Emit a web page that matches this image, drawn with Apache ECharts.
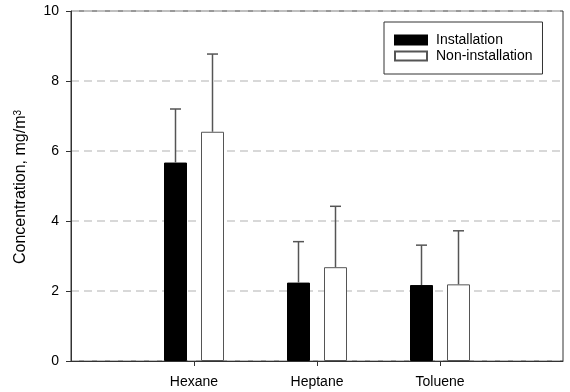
<!DOCTYPE html>
<html>
<head>
<meta charset="utf-8">
<script src="https://cdn.jsdelivr.net/npm/echarts@6/dist/echarts.min.js"></script>
<style>html,body{margin:0;padding:0;background:#fff}#c{width:570px;height:392px}</style>
</head>
<body>
<div id="c"></div>
<script>
// Data
const categories = ['', 'Hexane', 'Heptane', 'Toluene', ''];
const installation = [null, 5.67, 2.24, 2.17, null];
const installationErr = [null, 1.53, 1.17, 1.14, null];
const nonInstallation = [null, 6.55, 2.68, 2.19, null];
const nonInstallationErr = [null, 2.22, 1.74, 1.53, null];
const yTicks = [0, 2, 4, 6, 8, 10];
const yTitle = 'Concentration, mg/m{s|3}';

const BAR_W = 23;
const GAP = 14;
const OFF = (BAR_W + GAP) / 2;
const FONT = '"Liberation Sans", Arial, sans-serif';

function errSeries(name, vals, errs, dir) {
  const d = [];
  vals.forEach((v, i) => { if (v != null) d.push([i, v, v + errs[i]]); });
  return {
    type: 'custom',
    name: name + ' err',
    z: 5,
    silent: true,
    encode: { x: 0, y: [1, 2] },
    data: d,
    renderItem: function (params, api) {
      const idx = api.value(0);
      const p0 = api.coord([idx, api.value(1)]);
      const p1 = api.coord([idx, api.value(2)]);
      const x = p0[0] + dir * OFF;
      const cap = 5.5;
      const st = { stroke: '#555', lineWidth: 1.5, fill: null };
      return {
        type: 'group',
        children: [
          { type: 'line', shape: { x1: x, y1: p0[1], x2: x, y2: p1[1] }, style: st },
          { type: 'line', shape: { x1: x - cap, y1: p1[1], x2: x + cap, y2: p1[1] }, style: st }
        ]
      };
    }
  };
}

const chart = echarts.init(document.getElementById('c'));
chart.setOption({
  animation: false,
  backgroundColor: '#fff',
  grid: { left: 71, right: 7, top: 11, bottom: 31, show: true, borderColor: '#333', borderWidth: 1 },
  graphic: [{
    type: 'text',
    x: 21, y: 187,
    rotation: Math.PI / 2,
    style: {
      text: yTitle,
      align: 'center', verticalAlign: 'middle',
      font: '16px "Liberation Sans", Arial, sans-serif',
      fill: '#000',
      rich: { s: { fontSize: 10, fontFamily: FONT, verticalAlign: 'top', fill: '#000' } }
    }
  }],
  legend: {
    orient: 'vertical',
    left: 384, top: 22,
    padding: [10, 10, 10, 10],
    itemGap: 0,
    itemWidth: 32, itemHeight: 9,
    borderColor: '#333', borderWidth: 1,
    backgroundColor: '#fff',
    textStyle: { fontFamily: FONT, fontSize: 14, color: '#000', lineHeight: 16, padding: [0, 0, 0, 4] },
    data: [
      { name: 'Installation', icon: 'rect' },
      { name: 'Non-installation', icon: 'rect' }
    ]
  },
  xAxis: {
    type: 'category',
    data: categories,
    boundaryGap: false,
    axisLine: { lineStyle: { color: '#333', width: 1 } },
    axisTick: { length: 5, lineStyle: { color: '#333' }, interval: (i, v) => v !== '' },
    axisLabel: { fontFamily: FONT, fontSize: 14, color: '#000', margin: 14, interval: 0 },
    splitLine: { show: false }
  },
  yAxis: {
    type: 'value',
    min: 0, max: 10, interval: 2,
    axisLine: { show: true, lineStyle: { color: '#333', width: 1 } },
    axisTick: { show: true, length: 5, lineStyle: { color: '#333' } },
    axisLabel: { fontFamily: FONT, fontSize: 14, color: '#000', margin: 12,
      formatter: v => yTicks.includes(v) ? String(v) : '' },
    splitLine: { show: true, lineStyle: { color: '#ccc', width: 1.5, type: [8, 5] } }
  },
  series: [
    {
      name: 'Installation', type: 'bar', data: installation,
      barWidth: BAR_W, barGap: (GAP / BAR_W * 100) + '%',
      itemStyle: { color: '#000', borderColor: '#000', borderWidth: 1 },
      z: 3
    },
    {
      name: 'Non-installation', type: 'bar', data: nonInstallation,
      barWidth: BAR_W,
      itemStyle: { color: '#fff', borderColor: '#555', borderWidth: 1 },
      z: 3
    },
    errSeries('Installation', installation, installationErr, -1),
    errSeries('Non-installation', nonInstallation, nonInstallationErr, 1)
  ]
});
</script>
</body>
</html>
